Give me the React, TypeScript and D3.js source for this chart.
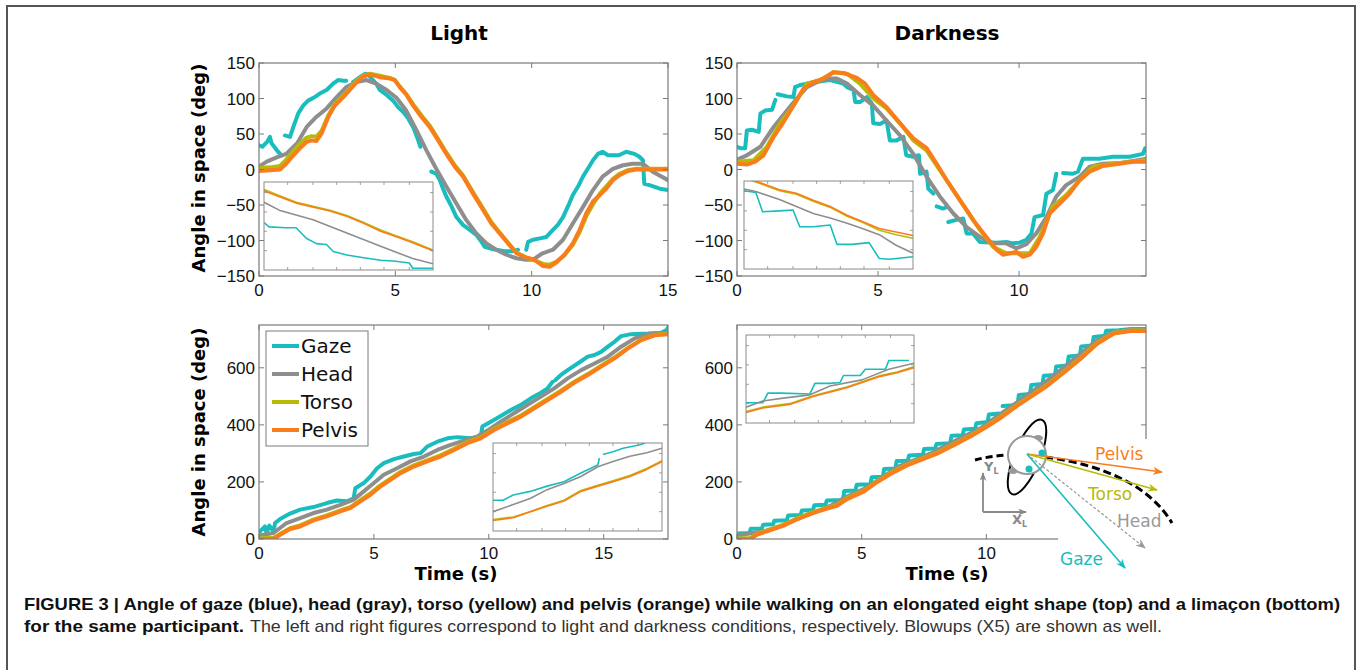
import React from 'react';
import * as d3 from 'd3';

type Pt = [number, number] | null;

const seriesNames = ['Gaze', 'Head', 'Torso', 'Pelvis'];
const seriesColors = ['#1abdbd', '#8e8e8e', '#b7bb08', '#fa7d1c'];

const panelTitles = ['Light', 'Darkness'];
const yAxisLabel = 'Angle in space (deg)';
const xAxisLabel = 'Time (s)';

const eightTicksY = [-150, -100, -50, 0, 50, 100, 150];
const limaconTicksY = [0, 200, 400, 600];
const lightTicksX = [0, 5, 10, 15];
const darkTicksX = [0, 5, 10];
const insetTicksX = [0.14, 0.29, 0.43, 0.57, 0.71, 0.86];
const insetTicksY = [0.22, 0.44, 0.66, 0.88];

// ---- Light, elongated eight (top-left) ----
const lightEightGaze: Pt[] = [
  [0, 34], [0.12, 32], [0.3, 39], [0.4, 46], [0.46, 37], [0.6, 30], [0.7, 25], [0.83, 20], null,
  [0.95, 48], [1.14, 46], [1.26, 60], [1.44, 79], [1.62, 90], [1.8, 97], [2.0, 101], [2.23, 107],
  [2.48, 112], [2.72, 121], [2.9, 126], [3.1, 125], [3.2, 125], null,
  [3.45, 123], [3.7, 130], [3.9, 135], [4.0, 134], [4.13, 128], [4.3, 121], [4.43, 112], [4.68, 105],
  [4.92, 97], [5.1, 88], [5.29, 81], [5.47, 72], [5.65, 60], [5.84, 41], [5.92, 32], null,
  [6.32, -3], [6.5, -6], [6.63, -15], [6.75, -27], [6.87, -38], [7.06, -52], [7.24, -67], [7.48, -78],
  [7.73, -85], [7.97, -92], [8.16, -102], [8.28, -109], [8.46, -111], [8.7, -113], [9.0, -115],
  [9.3, -115], [9.5, -113], null,
  [9.8, -113], [9.87, -102], [10.05, -99], [10.3, -97], [10.54, -95], [10.78, -85], [10.96, -78],
  [11.15, -67], [11.33, -52], [11.51, -36], [11.7, -24], [11.88, -10], [12.06, 1], [12.25, 13],
  [12.43, 22], [12.6, 25], [12.8, 20], [12.98, 20], [13.2, 20], [13.47, 25], [13.77, 22], [13.95, 18],
  [14.08, 13], [14.13, -20], [14.32, -22], [14.7, -27], [15, -29],
];
const lightEightHead: Pt[] = [
  [0, 4], [0.28, 11], [0.65, 17], [1.0, 22], [1.4, 37], [1.75, 60], [2.1, 74], [2.48, 86], [2.85, 102],
  [3.2, 116], [3.58, 123], [3.94, 126], [4.3, 121], [4.68, 112], [5.04, 101], [5.4, 83], [5.78, 55],
  [6.14, 27], [6.5, 1], [6.87, -24], [7.24, -48], [7.6, -71], [7.97, -90], [8.34, -104], [8.7, -113],
  [9.07, -120], [9.44, -125], [9.8, -127], [10.05, -127], [10.4, -118], [10.78, -113], [11.15, -99],
  [11.51, -76], [11.88, -53], [12.25, -29], [12.6, -10], [12.98, 1], [13.35, 6], [13.7, 8], [14.08, 8],
  [14.44, -3], [15, -15],
];
const lightEightTorso: Pt[] = [
  [0, 2], [0.4, 3], [0.77, 5], [1.0, 14], [1.26, 26], [1.5, 36], [1.75, 45], [1.93, 47], [2.1, 46],
  [2.3, 55], [2.54, 76], [2.78, 92], [3.09, 104], [3.33, 114], [3.58, 125], [3.82, 132], [4.07, 135],
  [4.43, 132], [4.8, 129], [4.98, 126], [5.16, 117], [5.41, 106], [5.65, 92], [5.96, 76], [6.26, 62],
  [6.57, 43], [6.87, 24], [7.18, 6], [7.48, -8], [7.85, -32], [8.22, -55], [8.52, -74], [8.83, -89],
  [9.13, -103], [9.44, -117], [9.8, -124], [10.1, -128], [10.42, -133], [10.66, -134], [10.9, -130],
  [11.2, -121], [11.51, -106], [11.76, -88], [12.0, -66], [12.25, -49], [12.5, -34], [12.73, -24],
  [12.98, -13], [13.22, -6], [13.53, -1], [13.83, 1], [15, 1],
];
const lightEightPelvis: Pt[] = [
  [0, -2], [0.4, -1], [0.77, 0], [1.0, 8], [1.26, 20], [1.5, 30], [1.75, 39], [1.93, 41], [2.1, 40],
  [2.3, 51], [2.54, 74], [2.78, 90], [3.09, 102], [3.33, 112], [3.58, 123], [3.82, 131], [4.07, 134],
  [4.43, 130], [4.8, 128], [4.98, 126], [5.16, 116], [5.41, 105], [5.65, 90], [5.96, 74], [6.26, 60],
  [6.57, 41], [6.87, 22], [7.18, 4], [7.48, -10], [7.85, -34], [8.22, -57], [8.52, -76], [8.83, -90],
  [9.13, -104], [9.44, -118], [9.8, -124], [10.1, -127], [10.42, -136], [10.66, -137], [10.9, -131],
  [11.2, -120], [11.51, -104], [11.76, -85], [12.0, -62], [12.25, -45], [12.5, -36], [12.73, -27],
  [12.98, -15], [13.22, -8], [13.53, -2], [13.83, 0], [15, 0],
];

// ---- Darkness, elongated eight (top-right) ----
const darkEightGaze: Pt[] = [
  [0, 32], [0.12, 30], [0.29, 30], [0.35, 55], [0.53, 56], [0.77, 53], [0.83, 79], [1.0, 83], [1.24, 84],
  [1.36, 98], null,
  [1.44, 106], [1.77, 103], [2.0, 102], [2.06, 116], [2.24, 119], [2.48, 121], [2.9, 124], [3.3, 126],
  [3.77, 121], [3.9, 116], [4.13, 112], [4.19, 95], [4.36, 95], [4.6, 102], [4.78, 93], [4.83, 65],
  [5.07, 64], [5.3, 69], [5.42, 41], [5.66, 41], [5.9, 46], [6.0, 20], [6.25, 18], [6.45, 20], [6.49, -6],
  [6.72, -3], [6.78, -27], [6.96, -34], null,
  [7.08, -52], [7.3, -55], [7.43, -53], null,
  [7.49, -74], [7.78, -71], [8.02, -69], [8.14, -90], [8.37, -90], [8.61, -102], [9.2, -103], [9.55, -102],
  [9.79, -104], [10.02, -103], [10.26, -99], [10.44, -90], [10.55, -67], [10.85, -64], [10.97, -34],
  [11.2, -29], [11.32, -6], null,
  [11.56, -5], [11.9, -6], [12.09, -3], [12.26, 15], [12.85, 15], [13.33, 18], [13.92, 18], [14.39, 22],
  [14.47, 30],
];
const darkEightHead: Pt[] = [
  [0, 14], [0.35, 20], [0.83, 32], [1.3, 60], [1.77, 83], [2.12, 100], [2.48, 116], [2.83, 123],
  [3.18, 128], [3.54, 128], [3.9, 121], [4.36, 105], [4.83, 90], [5.3, 69], [5.78, 48], [6.25, 22],
  [6.72, -10], [7.19, -38], [7.67, -62], [8.14, -81], [8.61, -95], [9.08, -104], [9.55, -104], [9.9, -111],
  [10.26, -105], [10.61, -90], [10.97, -67], [11.32, -38], [11.67, -22], [12.15, -10], [12.5, 4],
  [12.97, 8], [13.56, 9], [14.47, 15],
];
const darkEightTorso: Pt[] = [
  [0, 11], [0.59, 13], [1.06, 32], [1.53, 65], [2.0, 90], [2.48, 121], [2.95, 126], [3.42, 137], [3.9, 135],
  [4.36, 121], [4.83, 100], [5.3, 86], [5.78, 65], [6.25, 41], [6.72, 27], [7.19, -1], [7.67, -29],
  [8.14, -57], [8.61, -85], [9.08, -109], [9.55, -118], [10.02, -118], [10.38, -118], [10.73, -95],
  [11.2, -52], [11.67, -36], [12.15, -15], [12.62, 4], [13.33, 8], [14.47, 13],
];
const darkEightPelvis: Pt[] = [
  [0, 8], [0.35, 7], [0.65, 11], [0.94, 20], [1.3, 46], [1.65, 67], [2.0, 90], [2.36, 114], [2.71, 123],
  [3.07, 128], [3.42, 137], [3.77, 136], [4.25, 129], [4.54, 121], [4.83, 105], [5.3, 88], [5.78, 65],
  [6.25, 44], [6.72, 30], [7.08, 8], [7.43, -15], [7.9, -43], [8.37, -71], [8.84, -95], [9.2, -113],
  [9.43, -120], [9.67, -118], [9.9, -116], [10.14, -123], [10.38, -120], [10.61, -109], [10.85, -90],
  [11.08, -62], [11.44, -48], [11.79, -34], [12.15, -15], [12.5, -3], [12.97, 5], [13.56, 8], [14.03, 11],
  [14.47, 11],
];

// ---- Light, limaçon (bottom-left) ----
const lightLimaconGaze: Pt[] = [
  [0, 23], [0.12, 33], [0.26, 44], [0.33, 21], [0.45, 47], [0.63, 27], [0.7, 56], [0.92, 70], [1.35, 89],
  [1.79, 103], [2.37, 112], [2.95, 126], [3.39, 135], [3.83, 132], [4.12, 143], [4.19, 178], [4.56, 196],
  [4.85, 219], [5.14, 248], [5.43, 266], [5.87, 280], [6.3, 289], [6.74, 298], [7.03, 301], [7.32, 324],
  [7.76, 341], [8.2, 353], [8.63, 357], [9.21, 353], [9.65, 359], [9.72, 394], [10.09, 411], [10.52, 431],
  [10.96, 452], [11.4, 470], [11.83, 493], [12.27, 513], [12.56, 528], [12.78, 551], null,
  [12.9, 557], [13.14, 575], [13.43, 592], [13.87, 615], [14.31, 639], [14.6, 645], [14.89, 656],
  [15.18, 674], [15.47, 691], [15.76, 711], [16.2, 718], [16.93, 720], [17.5, 723], [17.73, 732],
  [17.87, 749],
];
const lightLimaconHead: Pt[] = [
  [0, 12], [0.63, 21], [1.2, 56], [1.79, 73], [2.37, 91], [2.95, 103], [3.54, 120], [4.12, 138],
  [4.56, 167], [5.0, 196], [5.43, 225], [6.01, 248], [6.59, 272], [7.18, 289], [7.76, 312], [8.34, 330],
  [8.92, 345], [9.5, 359], [9.94, 380], [10.52, 411], [11.1, 441], [11.69, 470], [12.27, 499], [12.85, 528],
  [13.43, 563], [14.02, 592], [14.6, 615], [15.18, 639], [15.76, 674], [16.35, 703], [16.93, 718],
  [17.87, 723],
];
const lightLimaconTorso: Pt[] = [
  [0, 3], [0.63, 4], [0.92, 18], [1.35, 38], [1.79, 48], [2.37, 68], [2.95, 83], [3.54, 100], [3.97, 112],
  [4.41, 136], [4.85, 160], [5.28, 188], [5.72, 211], [6.16, 235], [6.74, 258], [7.32, 276], [7.9, 293],
  [8.49, 316], [9.07, 340], [9.65, 356], [10.23, 386], [10.82, 410], [11.4, 433], [11.98, 462],
  [12.56, 491], [13.14, 520], [13.73, 551], [14.31, 578], [14.89, 607], [15.47, 636], [16.06, 670],
  [16.64, 699], [17.22, 716], [17.87, 720],
];
const lightLimaconPelvis: Pt[] = [
  [0, 0], [0.63, 0], [0.92, 15], [1.35, 35], [1.79, 44], [2.37, 65], [2.95, 79], [3.54, 97], [3.97, 108],
  [4.41, 132], [4.85, 155], [5.28, 184], [5.72, 207], [6.16, 231], [6.74, 254], [7.32, 272], [7.9, 289],
  [8.49, 312], [9.07, 336], [9.65, 353], [10.23, 382], [10.82, 406], [11.4, 429], [11.98, 458],
  [12.56, 487], [13.14, 516], [13.73, 548], [14.31, 575], [14.89, 604], [15.47, 633], [16.06, 668],
  [16.64, 697], [17.22, 714], [17.87, 718],
];

// ---- Darkness, limaçon (bottom-right) ----
const darkLimaconGaze: Pt[] = [
  [0, 19], [0.5, 21], [0.55, 36], [1.0, 37], [1.05, 50], [1.45, 52], [1.5, 64], [2.0, 66], [2.05, 82],
  [2.55, 84], [2.6, 100], [3.05, 102], [3.1, 118], [3.55, 120], [3.6, 135], [4.25, 137], [4.3, 168],
  [4.75, 170], [4.8, 190], [5.35, 192], [5.4, 216], [5.85, 218], [5.9, 245], [6.35, 247], [6.4, 273],
  [6.85, 274], [6.9, 293], [7.45, 295], [7.5, 315], [7.95, 317], [8.0, 333], [8.55, 336], [8.6, 362],
  [9.05, 364], [9.1, 384], [9.55, 386], [9.6, 406], [10.05, 410], [10.1, 436], [10.5, 440], null,
  [10.65, 466], [11.25, 470], [11.3, 505], [11.75, 508], [11.8, 540], [12.25, 543], [12.3, 572],
  [12.75, 575], [12.8, 605], [13.25, 608], [13.3, 640], [13.75, 643], [13.8, 675], [14.25, 678],
  [14.3, 708], [14.75, 712], [14.8, 730], [15.3, 732], [15.8, 736], [16.4, 736],
];
const darkLimaconHead: Pt[] = [
  [0, 12], [1.07, 27], [1.74, 45], [2.41, 71], [3.07, 92], [3.74, 116], [4.41, 149], [5.08, 175],
  [5.75, 211], [6.42, 252], [7.09, 276], [7.75, 299], [8.42, 329], [9.09, 359], [9.76, 388], [10.43, 430],
  [11.1, 471], [11.76, 512], [12.43, 554], [13.1, 601], [13.77, 649], [14.44, 696], [15.11, 725],
  [15.78, 734], [16.4, 734],
];
const darkLimaconTorso: Pt[] = [
  [0, 3], [0.53, 3], [0.8, 18], [1.34, 34], [1.87, 50], [2.41, 72], [3.07, 95], [3.61, 110], [4.01, 119],
  [4.41, 143], [5.08, 169], [5.61, 202], [6.15, 231], [6.82, 261], [7.35, 279], [8.02, 302], [8.69, 332],
  [9.36, 362], [10.03, 397], [10.56, 427], [11.1, 462], [11.76, 500], [12.43, 539], [13.1, 586],
  [13.77, 634], [14.44, 687], [15.11, 722], [15.78, 731], [16.4, 731],
];
const darkLimaconPelvis: Pt[] = [
  [0, 0], [0.53, 0], [0.8, 15], [1.34, 31], [1.87, 47], [2.41, 69], [3.07, 92], [3.61, 107], [4.01, 116],
  [4.41, 140], [5.08, 166], [5.61, 199], [6.15, 228], [6.82, 258], [7.35, 276], [8.02, 299], [8.69, 329],
  [9.36, 359], [10.03, 394], [10.56, 424], [11.1, 459], [11.76, 497], [12.43, 536], [13.1, 583],
  [13.77, 631], [14.44, 684], [15.11, 720], [15.78, 729], [16.4, 729],
];

// ---- Blowups (X5), inset-local units 0..1 ----
const lightEightBlowGaze: Pt[] = [
  [0, 0.54], [0.03, 0.49], [0.13, 0.48], [0.19, 0.48], [0.25, 0.36], [0.31, 0.3], [0.37, 0.29], [0.41, 0.21],
  [0.49, 0.17], [0.59, 0.14], [0.69, 0.11], [0.78, 0.1], [0.86, 0.08], [0.88, 0.02], [1, 0.02],
];
const lightEightBlowHead: Pt[] = [
  [0, 0.77], [0.09, 0.68], [0.29, 0.57], [0.49, 0.42], [0.69, 0.27], [0.88, 0.13], [1, 0.07],
];
const lightEightBlowTorso: Pt[] = [
  [0, 0.915], [0.19, 0.77], [0.39, 0.68], [0.49, 0.62], [0.59, 0.54], [0.69, 0.455], [0.78, 0.39],
  [0.88, 0.32], [1, 0.225],
];
const lightEightBlowPelvis: Pt[] = [
  [0, 0.9], [0.19, 0.76], [0.39, 0.67], [0.49, 0.61], [0.59, 0.53], [0.69, 0.44], [0.78, 0.38],
  [0.88, 0.31], [1, 0.22],
];
const darkEightBlowGaze: Pt[] = [
  [0, 0.89], [0.07, 0.87], [0.11, 0.65], [0.21, 0.66], [0.29, 0.67], [0.33, 0.48], [0.41, 0.48],
  [0.51, 0.5], [0.55, 0.28], [0.64, 0.28], [0.74, 0.3], [0.8, 0.12], [0.86, 0.11], [1, 0.14],
];
const darkEightBlowHead: Pt[] = [
  [0, 0.91], [0.07, 0.88], [0.21, 0.79], [0.31, 0.71], [0.41, 0.63], [0.51, 0.58], [0.61, 0.52],
  [0.7, 0.46], [0.8, 0.39], [0.9, 0.27], [1, 0.18],
];
const darkEightBlowTorso: Pt[] = [
  [0, 1.03], [0.07, 0.99], [0.21, 0.89], [0.31, 0.85], [0.41, 0.77], [0.51, 0.7], [0.61, 0.6],
  [0.7, 0.53], [0.8, 0.44], [0.9, 0.39], [1, 0.35],
];
const darkEightBlowPelvis: Pt[] = [
  [0, 1.04], [0.07, 1.0], [0.21, 0.9], [0.31, 0.86], [0.41, 0.78], [0.51, 0.71], [0.61, 0.61],
  [0.7, 0.54], [0.8, 0.46], [0.9, 0.42], [1, 0.38],
];
const lightLimaconBlowGaze: Pt[] = [
  [0, 0.35], [0.06, 0.35], [0.12, 0.41], [0.22, 0.45], [0.32, 0.51], [0.42, 0.56], [0.52, 0.66],
  [0.62, 0.75], [0.63, 0.83], null, [0.65, 0.87], [0.71, 0.9], [0.77, 0.94], [0.87, 0.98], [0.9, 1.0],
];
const lightLimaconBlowHead: Pt[] = [
  [0, 0.22], [0.12, 0.3], [0.22, 0.37], [0.32, 0.47], [0.42, 0.54], [0.52, 0.62], [0.62, 0.73],
  [0.71, 0.79], [0.81, 0.85], [0.91, 0.89], [1, 0.94],
];
const lightLimaconBlowTorso: Pt[] = [
  [0, 0.13], [0.12, 0.16], [0.22, 0.22], [0.32, 0.29], [0.42, 0.35], [0.52, 0.46], [0.62, 0.52],
  [0.71, 0.57], [0.81, 0.63], [0.91, 0.71], [1, 0.8],
];
const lightLimaconBlowPelvis: Pt[] = [
  [0, 0.12], [0.12, 0.15], [0.22, 0.22], [0.32, 0.28], [0.42, 0.34], [0.52, 0.45], [0.62, 0.51],
  [0.71, 0.56], [0.81, 0.62], [0.91, 0.7], [1, 0.79],
];
const darkLimaconBlowGaze: Pt[] = [
  [0, 0.23], [0.1, 0.23], [0.13, 0.34], [0.21, 0.34], [0.38, 0.33], [0.41, 0.45], [0.5, 0.45],
  [0.56, 0.46], [0.58, 0.54], [0.68, 0.54], [0.71, 0.61], [0.83, 0.61], [0.85, 0.71], [0.97, 0.71],
];
const darkLimaconBlowHead: Pt[] = [
  [0, 0.18], [0.1, 0.25], [0.21, 0.28], [0.38, 0.32], [0.5, 0.42], [0.69, 0.49], [0.85, 0.61], [1, 0.68],
];
const darkLimaconBlowTorso: Pt[] = [
  [0, 0.13], [0.1, 0.18], [0.26, 0.22], [0.4, 0.31], [0.6, 0.41], [0.8, 0.54], [0.9, 0.58], [1, 0.64],
];
const darkLimaconBlowPelvis: Pt[] = [
  [0, 0.12], [0.1, 0.17], [0.26, 0.21], [0.4, 0.3], [0.6, 0.4], [0.8, 0.53], [0.9, 0.57], [1, 0.63],
];

const captionBold1 =
  'FIGURE 3 | Angle of gaze (blue), head (gray), torso (yellow) and pelvis (orange) while walking on an elongated eight shape (top) and a limaçon (bottom)';
const captionBold2 = 'for the same participant.';
const captionPlain2 =
  'The left and right figures correspond to light and darkness conditions, respectively. Blowups (X5) are shown as well.';

const MATLAB_FONT = "'DejaVu Sans', sans-serif";
const TICK_FONT = "'Liberation Sans', Arial, sans-serif";
const CAPTION_FONT = "'Liberation Sans Narrow', 'Liberation Sans', Arial, sans-serif";
const AXIS_GRAY = '#7a7a7a';

interface Box { x: number; y: number; w: number; h: number }
interface PanelSpec {
  id: string;
  box: Box;
  xDomain: [number, number];
  yDomain: [number, number];
  xTicks: number[];
  yTicks: number[];
  series: Pt[][];
  inset: Box;
  blowup: Pt[][];
}

const panels: PanelSpec[] = [
  {
    id: 'tl', box: { x: 259, y: 63, w: 409, h: 213 }, xDomain: [0, 15], yDomain: [-150, 150],
    xTicks: lightTicksX, yTicks: eightTicksY,
    series: [lightEightGaze, lightEightHead, lightEightTorso, lightEightPelvis],
    inset: { x: 264, y: 182, w: 169, h: 88 },
    blowup: [lightEightBlowGaze, lightEightBlowHead, lightEightBlowTorso, lightEightBlowPelvis],
  },
  {
    id: 'tr', box: { x: 737, y: 63, w: 409, h: 213 }, xDomain: [0, 14.5], yDomain: [-150, 150],
    xTicks: darkTicksX, yTicks: eightTicksY,
    series: [darkEightGaze, darkEightHead, darkEightTorso, darkEightPelvis],
    inset: { x: 744, y: 181, w: 169, h: 88 },
    blowup: [darkEightBlowGaze, darkEightBlowHead, darkEightBlowTorso, darkEightBlowPelvis],
  },
  {
    id: 'bl', box: { x: 259, y: 325, w: 409, h: 214 }, xDomain: [0, 17.8], yDomain: [0, 750],
    xTicks: lightTicksX, yTicks: limaconTicksY,
    series: [lightLimaconGaze, lightLimaconHead, lightLimaconTorso, lightLimaconPelvis],
    inset: { x: 493, y: 443, w: 169, h: 88 },
    blowup: [lightLimaconBlowGaze, lightLimaconBlowHead, lightLimaconBlowTorso, lightLimaconBlowPelvis],
  },
  {
    id: 'br', box: { x: 737, y: 325, w: 409, h: 214 }, xDomain: [0, 16.4], yDomain: [0, 750],
    xTicks: darkTicksX, yTicks: limaconTicksY,
    series: [darkLimaconGaze, darkLimaconHead, darkLimaconTorso, darkLimaconPelvis],
    inset: { x: 746, y: 335, w: 168, h: 88 },
    blowup: [darkLimaconBlowGaze, darkLimaconBlowHead, darkLimaconBlowTorso, darkLimaconBlowPelvis],
  },
];

const fmt = (v: number) => (v < 0 ? `\u2212${Math.abs(v)}` : `${v}`);

function Panel({ p }: { p: PanelSpec }) {
  const { box, inset } = p;
  const xs = d3.scaleLinear().domain(p.xDomain).range([box.x, box.x + box.w]);
  const ys = d3.scaleLinear().domain(p.yDomain).range([box.y + box.h, box.y]);
  const line = d3.line<Pt>().defined(d => d !== null).x(d => xs(d![0])).y(d => ys(d![1]));

  const ix = d3.scaleLinear().domain([0, 1]).range([inset.x, inset.x + inset.w]);
  const iy = d3.scaleLinear().domain([0, 1]).range([inset.y + inset.h, inset.y]);
  const iline = d3.line<Pt>().defined(d => d !== null).x(d => ix(d![0])).y(d => iy(d![1]));

  const bottom = box.y + box.h;
  const right = box.x + box.w;

  return (
    <g>
      <defs>
        <clipPath id={`clip-${p.id}`}>
          <rect x={box.x} y={box.y} width={box.w} height={box.h} />
        </clipPath>
        <clipPath id={`iclip-${p.id}`}>
          <rect x={inset.x} y={inset.y} width={inset.w} height={inset.h} />
        </clipPath>
      </defs>

      <g clipPath={`url(#clip-${p.id})`}>
        {p.series.map((s, i) => (
          <path key={i} d={line(s) ?? ''} fill="none" stroke={seriesColors[i]} strokeWidth={4}
            strokeLinejoin="round" strokeLinecap="round" />
        ))}
      </g>

      {/* axes box with inward ticks on all sides */}
      <rect x={box.x} y={box.y} width={box.w} height={box.h} fill="none" stroke={AXIS_GRAY} strokeWidth={1.2} />
      {p.xTicks.map(t => (
        <g key={`xt${t}`} stroke={AXIS_GRAY} strokeWidth={1}>
          <line x1={xs(t)} x2={xs(t)} y1={bottom} y2={bottom - 5} />
          <line x1={xs(t)} x2={xs(t)} y1={box.y} y2={box.y + 5} />
        </g>
      ))}
      {p.yTicks.map(t => (
        <g key={`yt${t}`} stroke={AXIS_GRAY} strokeWidth={1}>
          <line x1={box.x} x2={box.x + 5} y1={ys(t)} y2={ys(t)} />
          <line x1={right} x2={right - 5} y1={ys(t)} y2={ys(t)} />
        </g>
      ))}
      {p.xTicks.map(t => (
        <text key={`xl${t}`} x={xs(t)} y={bottom + 20} textAnchor="middle" fontFamily={TICK_FONT}
          fontSize={17} fill="#111">{fmt(t)}</text>
      ))}
      {p.yTicks.map(t => (
        <text key={`yl${t}`} x={box.x - 4} y={ys(t)} dy="0.36em" textAnchor="end" fontFamily={TICK_FONT}
          fontSize={17} fill="#111">{fmt(t)}</text>
      ))}

      {/* blowup */}
      <rect x={inset.x} y={inset.y} width={inset.w} height={inset.h} fill="#fff" />
      <g clipPath={`url(#iclip-${p.id})`}>
        {p.blowup.map((s, i) => (
          <path key={i} d={iline(s) ?? ''} fill="none" stroke={seriesColors[i]} strokeWidth={1.6}
            strokeLinejoin="round" />
        ))}
      </g>
      <rect x={inset.x} y={inset.y} width={inset.w} height={inset.h} fill="none" stroke="#8a8a8a" strokeWidth={1} />
      {insetTicksX.map(t => (
        <g key={`ixt${t}`} stroke="#8a8a8a" strokeWidth={0.8}>
          <line x1={ix(t)} x2={ix(t)} y1={inset.y} y2={inset.y + 3} />
          <line x1={ix(t)} x2={ix(t)} y1={inset.y + inset.h} y2={inset.y + inset.h - 3} />
        </g>
      ))}
      {insetTicksY.map(t => (
        <g key={`iyt${t}`} stroke="#8a8a8a" strokeWidth={0.8}>
          <line x1={inset.x} x2={inset.x + 3} y1={iy(t)} y2={iy(t)} />
          <line x1={inset.x + inset.w} x2={inset.x + inset.w - 3} y1={iy(t)} y2={iy(t)} />
        </g>
      ))}
    </g>
  );
}

function Legend() {
  const x = 266, y = 331;
  return (
    <g>
      <rect x={x} y={y} width={102} height={115} fill="#fff" stroke={AXIS_GRAY} strokeWidth={1} />
      {seriesNames.map((n, i) => (
        <g key={n}>
          <line x1={x + 6} x2={x + 33} y1={y + 15 + i * 28} y2={y + 15 + i * 28} stroke={seriesColors[i]} strokeWidth={4} />
          <text x={x + 35} y={y + 15 + i * 28} dy="0.36em" fontFamily={MATLAB_FONT} fontSize={20} fill="#111">{n}</text>
        </g>
      ))}
    </g>
  );
}

// schematic of the walker on the limaçon (bottom-right)
function Schematic() {
  const ox = 1027, oy = 454;
  const arrows = [
    { name: 'Pelvis', color: seriesColors[3], to: [1162, 472], label: [1095, 460], dash: undefined },
    { name: 'Torso', color: seriesColors[2], to: [1157, 490], label: [1088, 500], dash: undefined },
    { name: 'Head', color: '#999', to: [1145, 548], label: [1117, 527], dash: '3,2' },
    { name: 'Gaze', color: seriesColors[0], to: [1125, 568], label: [1060, 565], dash: undefined },
  ];
  return (
    <g>
      <defs>
        {arrows.map(a => (
          <marker key={a.name} id={`arr-${a.name}`} viewBox="0 0 10 8" refX={9} refY={4} markerWidth={10}
            markerHeight={8} markerUnits="userSpaceOnUse" orient="auto">
            <path d="M0,0 L10,4 L0,8 L3,4 z" fill={a.color} />
          </marker>
        ))}
        <marker id="arr-axis" viewBox="0 0 10 8" refX={9} refY={4} markerWidth={9} markerHeight={7}
          markerUnits="userSpaceOnUse" orient="auto">
          <path d="M0,0 L10,4 L0,8 L3,4 z" fill="#888" />
        </marker>
      </defs>
      {/* white corner that interrupts the axes */}
      <rect x={1058} y={439} width={100} height={108} fill="#fff" />

      <path d="M975,460 Q990,456 1008,455" fill="none" stroke="#000" strokeWidth={3} strokeDasharray="7,4" />
      <path d="M1045,457 Q1140,470 1172,523" fill="none" stroke="#000" strokeWidth={3} strokeDasharray="8,4" />

      <line x1={983} y1={512} x2={983} y2={473} stroke="#888" strokeWidth={1.8} markerEnd="url(#arr-axis)" />
      <line x1={983} y1={512} x2={1026} y2={512} stroke="#888" strokeWidth={1.8} markerEnd="url(#arr-axis)" />
      <text x={984} y={471} fontFamily={MATLAB_FONT} fontWeight="bold" fontSize={13} fill="#888">
        Y<tspan fontSize={8} dy={3}>L</tspan>
      </text>
      <text x={1012} y={524} fontFamily={MATLAB_FONT} fontWeight="bold" fontSize={13} fill="#888">
        X<tspan fontSize={8} dy={3}>L</tspan>
      </text>

      <ellipse cx={ox} cy={457} rx={13} ry={40} transform={`rotate(22 ${ox} 457)`} fill="none" stroke="#000" strokeWidth={2} />
      <ellipse cx={1038} cy={438} rx={5} ry={3} fill="#999" />
      <ellipse cx={1013} cy={471} rx={5} ry={3} fill="#999" />
      <circle cx={ox} cy={455} r={19} fill="#fff" stroke="#999" strokeWidth={2} />

      {arrows.map(a => (
        <line key={a.name} x1={ox} y1={oy} x2={a.to[0]} y2={a.to[1]} stroke={a.color}
          strokeWidth={a.dash ? 1.2 : 1.6} strokeDasharray={a.dash} markerEnd={`url(#arr-${a.name})`} />
      ))}
      <circle cx={1042} cy={453} r={3.5} fill={seriesColors[0]} />
      <circle cx={1029} cy={469} r={3.5} fill={seriesColors[0]} />
      {arrows.map(a => (
        <text key={`t${a.name}`} x={a.label[0]} y={a.label[1]} fontFamily={MATLAB_FONT} fontSize={17} fill={a.color}>
          {a.name}
        </text>
      ))}
    </g>
  );
}

export default function App() {
  return (
    <svg width={1357} height={670} style={{ position: 'absolute', left: 0, top: 0, background: '#fff' }}>
      <rect x={0} y={0} width={1357} height={670} fill="#fff" />
      <rect x={7} y={6} width={1348} height={700} fill="none" stroke="#555" strokeWidth={2} />

      <text x={459} y={40} textAnchor="middle" fontFamily={MATLAB_FONT} fontWeight="bold" fontSize={20}>{panelTitles[0]}</text>
      <text x={947} y={40} textAnchor="middle" fontFamily={MATLAB_FONT} fontWeight="bold" fontSize={20}>{panelTitles[1]}</text>

      <text transform="translate(205,168) rotate(-90)" textAnchor="middle" fontFamily={MATLAB_FONT} fontWeight="bold" fontSize={18}>{yAxisLabel}</text>
      <text transform="translate(205,432) rotate(-90)" textAnchor="middle" fontFamily={MATLAB_FONT} fontWeight="bold" fontSize={18}>{yAxisLabel}</text>

      <text x={456} y={580} textAnchor="middle" fontFamily={MATLAB_FONT} fontWeight="bold" fontSize={18}>{xAxisLabel}</text>
      <text x={947} y={580} textAnchor="middle" fontFamily={MATLAB_FONT} fontWeight="bold" fontSize={18}>{xAxisLabel}</text>

      {panels.map(p => <Panel key={p.id} p={p} />)}
      <Legend />
      <Schematic />

      <text x={24} y={610} fontFamily={CAPTION_FONT} fontWeight="bold" fontSize={17} fill="#111"
        textLength={1316} lengthAdjust="spacingAndGlyphs">{captionBold1}</text>
      <text x={24} y={632} fontFamily={CAPTION_FONT} fontWeight="bold" fontSize={17} fill="#111"
        textLength={220} lengthAdjust="spacingAndGlyphs">{captionBold2}</text>
      <text x={250} y={632} fontFamily={CAPTION_FONT} fontSize={17} fill="#333"
        textLength={912} lengthAdjust="spacingAndGlyphs">{captionPlain2}</text>
    </svg>
  );
}
